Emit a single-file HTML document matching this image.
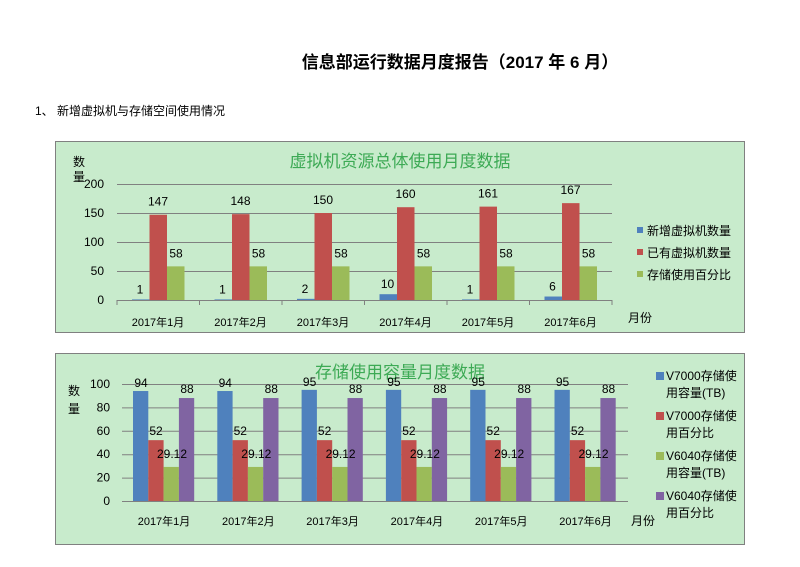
<!DOCTYPE html><html><head><meta charset="utf-8"><style>
body{margin:0;background:#fff;width:800px;height:562px;overflow:hidden;font-family:"Liberation Sans","Noto Sans CJK SC",sans-serif}
svg text{font-family:"Liberation Sans","Noto Sans CJK SC",sans-serif}
</style></head><body>
<svg id="s" width="800" height="562" xmlns="http://www.w3.org/2000/svg">
<text x="460" y="68" text-anchor="middle" font-size="17" font-weight="bold" fill="#000">信息部运行数据月度报告（2017 年 6 月）</text>
<text x="35" y="115" font-size="12" fill="#000">1、 新增虚拟机与存储空间使用情况</text>
<rect x="55.5" y="141.5" width="689" height="191" fill="#c8ebcc" stroke="#808080"/>
<rect x="55.5" y="353.5" width="689" height="191" fill="#c8ebcc" stroke="#808080"/>
<text x="400" y="167" text-anchor="middle" font-size="17" fill="#3daa55">虚拟机资源总体使用月度数据</text>
<text x="400" y="378" text-anchor="middle" font-size="17" fill="#3daa55">存储使用容量月度数据</text>
<g id="g"></g>
</svg>
<script>
var g=document.getElementById('g'),h='';
function R(x,y,w,hh,c){h+='<rect x="'+x+'" y="'+y+'" width="'+w+'" height="'+hh+'" fill="'+c+'"/>';}
function T(x,y,t,s,a,c){h+='<text x="'+x+'" y="'+y+'" font-size="'+(s||11)+'" text-anchor="'+(a||'middle')+'" fill="'+(c||'#000')+'">'+t+'</text>';}
function L(x1,y1,x2,y2,c){h+='<line x1="'+x1+'" y1="'+y1+'" x2="'+x2+'" y2="'+y2+'" stroke="'+(c||'#808080')+'" stroke-width="1"/>';}
var B='#4f81bd',Rd='#c0504d',G='#9bbb59',P='#8064a2';
var y0=300,sc=0.58;
[0,50,100,150,200].forEach(function(v){var y=y0-v*sc;if(v>0)L(117,y+.5,612,y+.5);T(104,y+4,v,12,'end');});
L(117,300.5,612,300.5);
for(var i=0;i<=6;i++)L(117+82.5*i,300,117+82.5*i,305);
var nw=[1,1,2,10,1,6],ex=[147,148,150,160,161,167];
for(i=0;i<6;i++){var c=117+82.5*i;
R(c+15,y0-nw[i]*sc,17.5,nw[i]*sc,B);R(c+32.5,y0-ex[i]*sc,17.5,ex[i]*sc,Rd);R(c+50,y0-58*sc,17.5,58*sc,G);
T(c+23,y0-nw[i]*sc-6,nw[i],12);T(c+41,y0-ex[i]*sc-9,ex[i],12);T(c+59,y0-58*sc-9,58,12);
T(c+41,326,'2017年'+(i+1)+'月');}
T(640,322,'月份',12,'middle');
T(73,166,'数',12,'start');T(73,181,'量',12,'start');
[['新增虚拟机数量',B],['已有虚拟机数量',Rd],['存储使用百分比',G]].forEach(function(a,k){var y=231+k*22;R(637,y-4,6,6,a[1]);T(647,y+4,a[0],12,'start');});
y0=501;sc=1.17;
[0,20,40,60,80,100].forEach(function(v){var y=y0-v*sc;if(v>0)L(122,y+.5,628,y+.5);T(110,y+4,v,12,'end');});
L(122,501.5,628,501.5,'#808080');
var bv=[94,94,95,95,95,95];
for(i=0;i<6;i++){var c=122+84.3*i;
R(c+11,y0-bv[i]*sc,15.3,bv[i]*sc,B);R(c+26.3,y0-52*sc,15.3,52*sc,Rd);R(c+41.6,y0-29.12*sc,15.3,29.12*sc,G);R(c+56.9,y0-88*sc,15.3,88*sc,P);
T(c+19,y0-bv[i]*sc-4,bv[i],12);T(c+34,y0-52*sc-5,52,12);T(c+50,y0-29.12*sc-9,'29.12',12);T(c+65,y0-88*sc-5,88,12);
T(c+42,525,'2017年'+(i+1)+'月');}
T(643,525,'月份',12,'middle');
T(68,395,'数',12,'start');T(68,413,'量',12,'start');
[['V7000存储使','用容量(TB)',B],['V7000存储使','用百分比',Rd],['V6040存储使','用容量(TB)',G],['V6040存储使','用百分比',P]].forEach(function(a,k){var y=376+k*40;R(656,y-4,8,8,a[2]);T(666,y+4,a[0],12,'start');T(666,y+21,a[1],12,'start');});
g.innerHTML=h;
</script>
</body></html>
